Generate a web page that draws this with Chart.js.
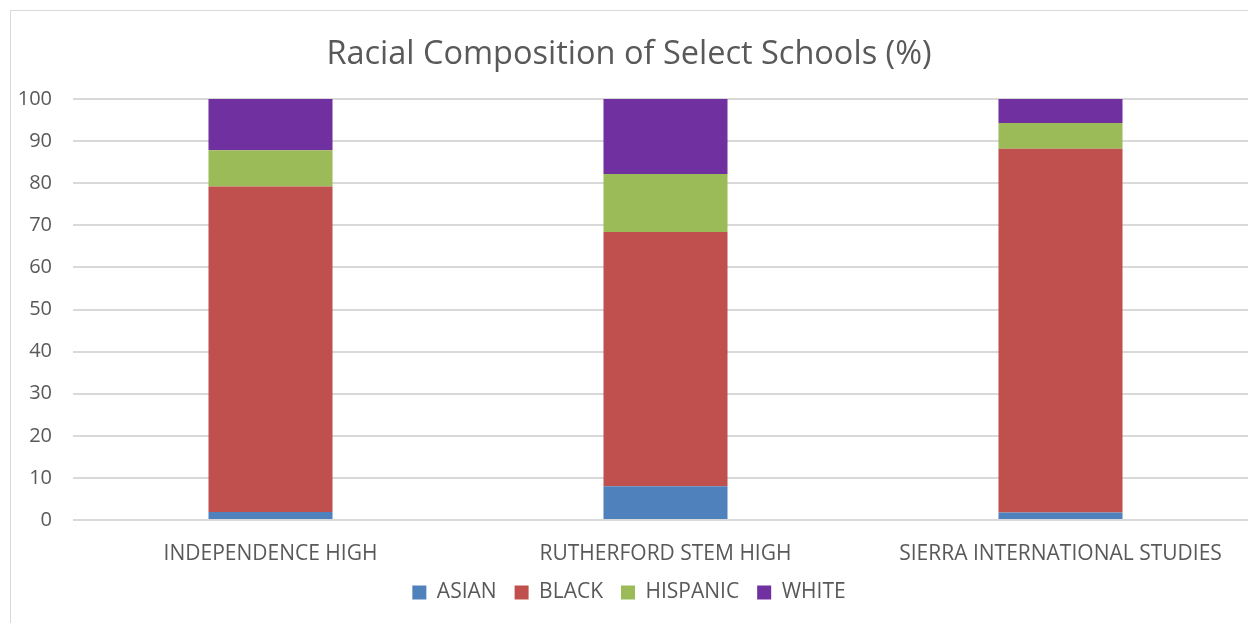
<!DOCTYPE html>
<html lang="en">
<head>
    <meta charset="UTF-8">
    <title>Racial Composition of Select Schools</title>
    <script src="https://cdn.jsdelivr.net/npm/chart.js"></script>
    <style>
        html, body { margin: 0; padding: 0; background: #fff; overflow: hidden; }
        .frame { position: absolute; left: 10px; top: 10px; width: 1300px; height: 700px; border: 1px solid #d9d9d9; }
        #schoolChart { position: absolute; left: 0; top: 0; }
    </style>
</head>
<body>
    <div class="frame"></div>
    <canvas id="schoolChart" width="1270" height="623"></canvas>

    <script>
        const schools = ['INDEPENDENCE HIGH', 'RUTHERFORD STEM HIGH', 'SIERRA INTERNATIONAL STUDIES'];
        const asian = [1.9, 8.0, 1.8];
        const black = [77.3, 60.4, 86.4];
        const hispanic = [8.6, 13.8, 6.1];
        const white = [12.2, 17.8, 5.7];
        const yTicks = [0, 10, 20, 30, 40, 50, 60, 70, 80, 90, 100];

        const textColor = '#595959';
        const fontFamily = '"Open Sans", Calibri, sans-serif';

        const ctx = document.getElementById('schoolChart').getContext('2d');
        new Chart(ctx, {
            type: 'bar',
            data: {
                labels: schools,
                datasets: [
                    { label: 'ASIAN', data: asian, backgroundColor: '#4F81BD' },
                    { label: 'BLACK', data: black, backgroundColor: '#C0504D' },
                    { label: 'HISPANIC', data: hispanic, backgroundColor: '#9BBB59' },
                    { label: 'WHITE', data: white, backgroundColor: '#7030A0' }
                ]
            },
            options: {
                responsive: false,
                animation: false,
                devicePixelRatio: 1,
                categoryPercentage: 0.314,
                barPercentage: 1,
                layout: { padding: { top: 0, right: 12, bottom: 10, left: 0 } },
                plugins: {
                    title: {
                        display: true,
                        text: 'Racial Composition of Select Schools (%)',
                        color: textColor,
                        font: { family: fontFamily, size: 32.5, weight: 'normal' },
                        padding: { top: 35, bottom: 25 }
                    },
                    legend: {
                        position: 'bottom',
                        labels: {
                            color: textColor,
                            font: { family: fontFamily, size: 21 },
                            boxWidth: 14,
                            boxHeight: 14,
                            padding: 18
                        }
                    },
                    tooltip: { enabled: false }
                },
                scales: {
                    x: {
                        stacked: true,
                        // only one tick padding below the labels, not two
                        afterFit: scale => { scale.height = 44; },
                        grid: { display: false, drawTicks: false },
                        border: { display: false },
                        ticks: {
                            color: textColor,
                            font: { family: fontFamily, size: 21 },
                            padding: 21,
                            maxRotation: 0
                        }
                    },
                    y: {
                        stacked: true,
                        min: 0,
                        max: 100,
                        afterBuildTicks: scale => { scale.ticks = yTicks.map(v => ({ value: v })); },
                        afterFit: scale => { scale.width = 73; },
                        grid: { color: '#d9d9d9', lineWidth: 2, drawTicks: false },
                        border: { display: false },
                        ticks: {
                            color: textColor,
                            font: { family: fontFamily, size: 20 },
                            padding: 21
                        }
                    }
                }
            }
        });
    </script>
</body>
</html>
